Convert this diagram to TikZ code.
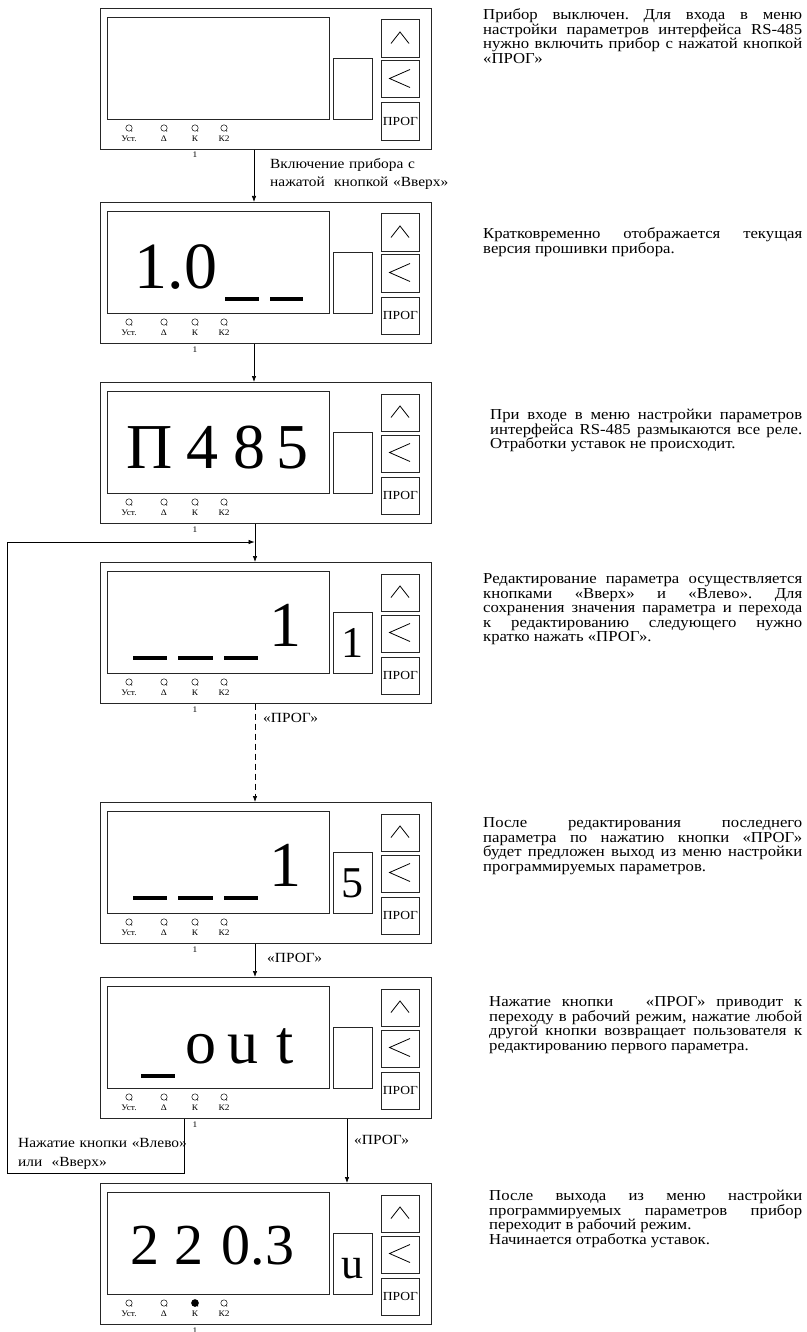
\documentclass[tikz,border=0pt]{standalone}
\usepackage{fontspec}
\setmainfont{Liberation Serif}
\newfontfamily\wfont[FakeStretch=1.1]{Liberation Serif}
\usetikzlibrary{arrows.meta}
\tikzset{
  ln/.style={line width=0.7pt, black!85},
  box/.style={draw=black!85, line width=0.7pt, inner sep=0pt, anchor=north west},
  arr/.style={-{Latex[length=6pt,width=4.5pt]}, line width=0.7pt},
  lbl/.style={font=\wfont\fontsize{14}{18}\selectfont, anchor=base west, inner sep=0pt, text width=220pt, align=left},
  desc/.style={font=\wfont\fontsize{15.2}{14.6}\selectfont, text width=#1, align=justify, anchor=base west, inner sep=0pt,
    execute at begin node={\frenchspacing\tolerance=10000\hbadness=10000\hyphenpenalty=10000\exhyphenpenalty=10000}},
  desc/.default=319pt,
  big/.style={font=\fontsize{#1}{#1}\selectfont, anchor=base, inner sep=0pt},
  tiny/.style={font=\wfont\fontsize{8.5}{9}\selectfont, anchor=base, inner sep=0pt},
  progtxt/.style={font=\wfont\fontsize{12.3}{12.3}\selectfont, inner sep=0pt},
}
\newcommand\dev[3]{%
 \begin{scope}[shift={(100,#2)}]
  \node[box, minimum width=331pt, minimum height=141pt] (#1) at (0,0) {};
  \node[box, minimum width=222pt, minimum height=102pt] (#1-disp) at (7,9) {};
  \node[box, minimum width=39pt, minimum height=61pt] (#1-ind) at (233,50) {};
  \node[box, minimum width=38pt, minimum height=37.5pt] (#1-up) at (281,11.5) {};
  \node[box, minimum width=38pt, minimum height=37pt] (#1-left) at (281,52.5) {};
  \node[box, minimum width=38pt, minimum height=37.5pt] (#1-prog) at (281,94.5) {};
  \node[progtxt] (#1-progt) at (#1-prog.center) {ПРОГ};
  \draw[line width=0.8pt] (291,35.5) -- (300,24) -- (309,35.5);
  \draw[line width=0.8pt] (310,61.5) -- (289.5,70.5) -- (310,79.5);
  \foreach \x/\t [count=\i] in {29/Уст.,64/Δ,95/К,124/К2}{
    \draw[line width=0.5pt] (\x,120) circle (3.2pt);
    \fill (\x+2.7,123) circle (0.6pt);
    \node[tiny] (#1-lab\i) at (\x,133.5) {\t};
  }
  \node[tiny] (#1-one) at (95,150) {1};
  #3
 \end{scope}}
\begin{document}
\begin{tikzpicture}[x=1pt,y=-1pt]
\useasboundingbox (0,0) rectangle (806,1332);

% devices
\dev{d1}{8}{}
\dev{d2}{202}{
  \node[big=66] (d2-t) at (76,86) {1.0};
  \fill (125,95.3) rectangle (159,98.7);
  \fill (170,95.3) rectangle (203,98.7);
}
\dev{d3}{382}{
  \node[big=64] (d3-a) at (50,86) {П};
  \node[big=64] (d3-b) at (102,86) {4};
  \node[big=64] (d3-c) at (149.5,86) {8};
  \node[big=64] (d3-d) at (192.5,86) {5};
}
\dev{d4}{562}{
  \fill (33,94.3) rectangle (67,97.7);
  \fill (78,94.3) rectangle (113,97.7);
  \fill (124,94.3) rectangle (158,97.7);
  \node[big=64] (d4-t) at (185,84) {1};
  \node[big=44] (d4-s) at (252.5,95) {1};
}
\dev{d5}{802}{
  \fill (33,94.3) rectangle (67,97.7);
  \fill (78,94.3) rectangle (113,97.7);
  \fill (124,94.3) rectangle (158,97.7);
  \node[big=64] (d5-t) at (185,84) {1};
  \node[big=44] (d5-s) at (252.5,95) {5};
}
\dev{d6}{977}{
  \fill (41,97.3) rectangle (75,100.7);
  \node[big=62] (d6-a) at (100.5,86) {o};
  \node[big=62] (d6-b) at (143,86) {u};
  \node[big=62] (d6-c) at (185.5,86) {t};
}
\dev{d7}{1183}{
  \node[big=58] (d7-a) at (45,81) {2};
  \node[big=58] (d7-b) at (89,81) {2};
  \node[big=58] (d7-c) at (158,81) {0.3};
  \node[big=44] (d7-s) at (252.5,95) {u};
  \fill (95,120) circle (3.8pt);
}

% connectors
\draw[arr] ([xshift=154pt]d1.south west) -- ([xshift=154pt]d2.north west);
\draw[arr] ([xshift=154pt]d2.south west) -- ([xshift=154pt]d3.north west);
\draw[arr] ([xshift=155pt]d3.south west) -- ([xshift=155pt]d4.north west);
\draw[arr, dash pattern=on 6pt off 4pt] ([xshift=155pt]d4.south west) -- ([xshift=155pt]d5.north west);
\draw[arr] ([xshift=155pt]d5.south west) -- ([xshift=155pt]d6.north west);
\draw[arr] ([xshift=247pt]d6.south west) -- ([xshift=247pt]d7.north west);
\coordinate (lpA) at (184,1173);
\coordinate (lpB) at (7,1173);
\coordinate (lpC) at (7,542);
\coordinate (lpD) at (254.6,542);
\draw[arr] ([xshift=84pt]d6.south west) -- (lpA) -- (lpB) -- (lpC) -- (lpD);

% connector labels
\node[lbl] (l1) at (270,169) {Включение прибора с\\нажатой\ \ кнопкой «Вверх»};
\node[lbl] (l2) at (263,722) {«ПРОГ»};
\node[lbl] (l3) at (267,962) {«ПРОГ»};
\node[lbl] (l4) at (354,1144) {«ПРОГ»};
\node[lbl, font=\wfont\fontsize{14}{19}\selectfont] (l5) at (18,1147) {Нажатие кнопки «Влево»\\или\ \ «Вверх»};

% descriptions
\node[desc] (t1) at (483,19.5) {Прибор выключен. Для входа в меню\linebreak настройки параметров интерфейса RS-485\linebreak нужно включить прибор с нажатой кнопкой\linebreak «ПРОГ»};
\node[desc] (t2) at (483,238.5) {Кратковременно отображается текущая\linebreak версия прошивки прибора.};
\node[desc=312pt] (t3) at (490,419.5) {При входе в меню настройки параметров\linebreak интерфейса RS-485 размыкаются все реле.\linebreak Отработки уставок не происходит.};
\node[desc] (t4) at (483,583.5) {Редактирование параметра осуществляется\linebreak кнопками «Вверх» и «Влево». Для\linebreak сохранения значения параметра и перехода\linebreak к редактированию следующего нужно\linebreak кратко нажать «ПРОГ».};
\node[desc] (t5) at (483,827.5) {После редактирования последнего\linebreak параметра по нажатию кнопки «ПРОГ»\linebreak будет предложен выход из меню настройки\linebreak программируемых параметров.};
\node[desc=313pt] (t6) at (489,1006.5) {Нажатие кнопки\ \ \ «ПРОГ» приводит к\linebreak переходу в рабочий режим, нажатие любой\linebreak другой кнопки возвращает пользователя к\linebreak редактированию первого параметра.};
\node[desc=313pt] (t7) at (489,1200.5) {После выхода из меню настройки\linebreak программируемых параметров прибор\linebreak переходит в рабочий режим.\\Начинается отработка уставок.};
\end{tikzpicture}
\end{document}
